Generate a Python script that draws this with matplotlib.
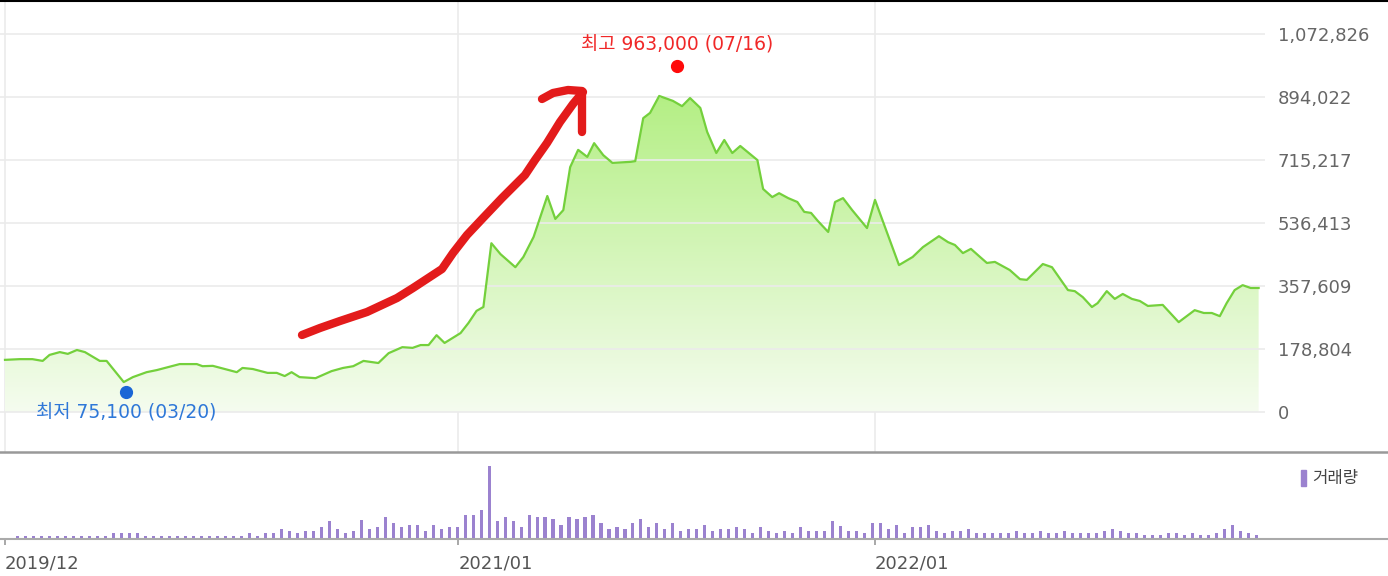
import matplotlib
matplotlib.use('Agg')
import matplotlib.pyplot as plt
import matplotlib.dates as mdates
import matplotlib.transforms as mtransforms
from matplotlib.patches import Rectangle
from matplotlib.colors import LinearSegmentedColormap
import numpy as np
import pandas as pd

# weekly close (thousand won)
price_dates = [
    '2019-12-01', '2019-12-14', '2019-12-25', '2020-01-03', '2020-01-09', '2020-01-18', '2020-01-25',
    '2020-02-02', '2020-02-09', '2020-02-22', '2020-02-28', '2020-03-14', '2020-03-22', '2020-04-03',
    '2020-04-12', '2020-05-02', '2020-05-17', '2020-05-22', '2020-05-31', '2020-06-21', '2020-06-26',
    '2020-07-05', '2020-07-18', '2020-07-26', '2020-08-02', '2020-08-08', '2020-08-15', '2020-08-29',
    '2020-09-12', '2020-09-22', '2020-10-01', '2020-10-10', '2020-10-23', '2020-11-01', '2020-11-13',
    '2020-11-22', '2020-11-29', '2020-12-06', '2020-12-13', '2020-12-20',
    '2021-01-03', '2021-01-10', '2021-01-17', '2021-01-23', '2021-01-30', '2021-02-07', '2021-02-20',
    '2021-02-27', '2021-03-08', '2021-03-20', '2021-03-27', '2021-04-03', '2021-04-09', '2021-04-16',
    '2021-04-24', '2021-04-30', '2021-05-08', '2021-05-16', '2021-06-01', '2021-06-05', '2021-06-12',
    '2021-06-18', '2021-06-26', '2021-07-08', '2021-07-16', '2021-07-23', '2021-08-01', '2021-08-07',
    '2021-08-15', '2021-08-22', '2021-08-29', '2021-09-05', '2021-09-20', '2021-09-25', '2021-10-03',
    '2021-10-09', '2021-10-17', '2021-10-25', '2021-10-31', '2021-11-06', '2021-11-12', '2021-11-21',
    '2021-11-27', '2021-12-04', '2021-12-12', '2021-12-25',
    '2022-01-01', '2022-01-22', '2022-02-03', '2022-02-12', '2022-02-26', '2022-03-06', '2022-03-12',
    '2022-03-19', '2022-03-26', '2022-04-03', '2022-04-09', '2022-04-16', '2022-04-29', '2022-05-08',
    '2022-05-14', '2022-05-28', '2022-06-05', '2022-06-19', '2022-06-25', '2022-07-02', '2022-07-10',
    '2022-07-15', '2022-07-23', '2022-07-30', '2022-08-06', '2022-08-14', '2022-08-21', '2022-08-28',
    '2022-09-10', '2022-09-24', '2022-10-08', '2022-10-16', '2022-10-23', '2022-10-30', '2022-11-05',
    '2022-11-12', '2022-11-19', '2022-11-26', '2022-12-03']
price_k = [
    148, 150, 150, 145, 162, 170, 165, 176, 170, 145, 145, 85, 99, 113, 119, 136, 136, 130, 131, 113,
    125, 122, 111, 111, 102, 113, 99, 96, 116, 125, 130, 145, 139, 167, 184, 182, 190, 190, 218, 196,
    224, 253, 287, 298, 479, 448, 411, 440, 497, 613, 548, 573, 695, 744, 724, 763, 729, 707, 710, 712,
    834, 849, 897, 883, 868, 891, 863, 795, 735, 772, 735, 755, 715, 633, 610, 621, 607, 596, 568, 565,
    542, 511, 596, 607, 573, 522,
    602, 417, 440, 468, 499, 482, 474, 451, 463, 440, 423, 426, 403, 377, 375, 420, 411, 346, 343, 326,
    298, 309, 343, 321, 335, 321, 315, 301, 304, 255, 289, 281, 281, 272, 309, 346, 360, 352, 352]

# weekly volume (relative units), one bar per week
vol_start = '2019-12-12'
volume = [
    6, 6, 6, 6, 6, 6, 6, 6, 6, 6, 6, 6, 14, 14, 14, 14, 6, 6, 6, 6,
    6, 6, 6, 6, 6, 6, 6, 6, 6, 14, 6, 14, 14, 26, 20, 14, 20, 20, 32, 50,
    26, 14, 20, 55, 26, 32, 62, 44, 32, 38, 38,
    20, 38, 26, 32, 32, 68, 68, 85, 217, 50, 62, 50, 32, 68, 62, 62, 56, 38, 62, 56,
    62, 68, 44, 26, 32, 26, 44, 56, 32, 44, 26, 44, 20, 26, 26, 38, 20, 26, 26, 32,
    26, 14, 32, 20, 14, 20, 14, 32, 20, 20, 20, 50,
    36, 20, 20, 14, 44, 44, 26, 38, 14, 32, 32, 38, 20, 14, 20, 20, 26, 14, 14, 14,
    14, 14, 20, 14, 14, 20, 14, 14, 20, 14, 14, 14, 14, 20, 26, 20, 14, 14, 8, 8,
    8, 14, 14, 8, 14, 8, 8, 14, 26, 38, 20, 14, 8]

y_ticks = [0, 178804, 357609, 536413, 715217, 894022, 1072826]
x_ticks = ['2019-12-01', '2021-01-01', '2022-01-01']
x_tick_labels = ['2019/12', '2021/01', '2022/01']

high_value, high_date = 963000, '2021-07-16'
low_value, low_date = 75100, '2020-03-20'

# hand drawn red arrow on the screenshot (figure pixels)
arrow_x = [302, 320, 340, 367, 397, 413, 442, 453, 467, 483, 502, 512, 525, 535, 547, 560, 573, 583]
arrow_y = [335, 328, 321, 312, 298, 288, 269, 253, 235, 218, 198, 188, 175, 160, 143, 122, 104, 92]
head_x = [542, 553, 568, 582, 582]
head_y = [99, 93, 90, 91, 132]

W, H = 1388, 576
fig = plt.figure(figsize=(W / 100, H / 100), dpi=100)


def box(l, t, r, b):
    return [l / W, 1 - b / H, (r - l) / W, (b - t) / H]


ax = fig.add_axes(box(0, 2, 1265, 452))
axv = fig.add_axes(box(0, 453, 1265, 538))

px_per_day = 870 / 762
x_left = mdates.datestr2num('2019-12-01') - 5 / px_per_day
x_right = x_left + 1265 / px_per_day

xs = mdates.date2num(pd.to_datetime(price_dates))
ys = np.array(price_k) * 1000

# gradient fill under the line
poly = ax.fill_between(xs, ys, 0, color='none', lw=0)
grad = np.linspace(0, 1, 256).reshape(-1, 1)
cmap = LinearSegmentedColormap.from_list('g', ['#f5fcef', '#b0ee7e'])
im = ax.imshow(grad, cmap=cmap, aspect='auto', origin='lower',
               extent=[xs[0], xs[-1], 0, 950000], zorder=1)
im.set_clip_path(poly.get_paths()[0], transform=ax.transData)
ax.plot(xs, ys, color='#74d03c', lw=1.6, zorder=3)

unit = y_ticks[1] / 63
ax.set_xlim(x_left, x_right)
ax.set_ylim(-40 * unit, 410 * unit)
ax.set_yticks(y_ticks)
ax.set_yticklabels([f'{v:,}' for v in y_ticks])
ax.yaxis.tick_right()
ax.tick_params(axis='y', length=0, pad=9, labelsize=13, labelcolor='#666666')
ax.set_xticks([])
ax.grid(axis='y', color='#ebebeb', lw=1.2, zorder=0)
for t in x_ticks:
    ax.axvline(mdates.datestr2num(t), color='#ebebeb', lw=1.2, zorder=0)
for s in ax.spines.values():
    s.set_visible(False)


# high / low markers, at the start of their week
def week_start(d):
    t = pd.Timestamp(d)
    return mdates.date2num(t - pd.Timedelta(days=t.weekday()))


txt_font = ['DejaVu Sans', 'Noto Sans CJK KR']
up = mtransforms.offset_copy(ax.transData, fig=fig, y=5, units='points')
down = mtransforms.offset_copy(ax.transData, fig=fig, y=-5, units='points')
hx, lx = week_start(high_date), week_start(low_date)
ax.plot([hx], [high_value], 'o', color='#ff0a0a', ms=8.5, transform=up, zorder=5)
ax.plot([lx], [low_value], 'o', color='#1a66d6', ms=8.5, transform=down, zorder=5)
ax.annotate(f"최고 {high_value:,} ({pd.Timestamp(high_date):%m/%d})", xy=(hx, high_value),
            xytext=(0, 20), textcoords='offset points', ha='center', va='center',
            fontsize=13.5, family=txt_font, color='#f02828')
ax.annotate(f"최저 {low_value:,} ({pd.Timestamp(low_date):%m/%d})", xy=(lx, low_value),
            xytext=(0, -20), textcoords='offset points', ha='center', va='center',
            fontsize=13.5, family=txt_font, color='#2f78d8')
ax.set_xlim(x_left, x_right)
ax.set_ylim(-40 * unit, 410 * unit)

# volume
vx = mdates.date2num(pd.date_range(vol_start, periods=len(volume), freq='7D'))
axv.bar(vx, volume, width=2.7, color='#9b82cf', zorder=2)
axv.set_xlim(x_left, x_right)
axv.set_ylim(0, 255)
axv.set_yticks([])
axv.set_xticks(mdates.datestr2num(x_ticks))
axv.set_xticklabels(x_tick_labels, ha='left')
axv.tick_params(axis='x', length=5, width=1.2, color='#999999', pad=7,
                labelsize=13, labelcolor='#555555')
for s in axv.spines.values():
    s.set_visible(False)

# overlay in figure pixels: frame lines, legend, red arrow
ov = fig.add_axes([0, 0, 1, 1])
ov.set_xlim(0, W)
ov.set_ylim(H, 0)
ov.axis('off')
ov.patch.set_alpha(0)
ov.plot([0, W], [0.7, 0.7], color='black', lw=1.5)
ov.plot([0, W], [452, 452], color='#999999', lw=1.8)
ov.plot([0, W], [539, 539], color='#aaaaaa', lw=1.5)
ov.add_patch(Rectangle((1301, 470), 5, 16, color='#9b82cf'))
ov.text(1312, 478, '거래량', ha='left', va='center', fontsize=12,
        family=['Noto Sans CJK KR', 'DejaVu Sans'], color='#444444')
ov.plot(arrow_x, arrow_y, color='#e31b1b', lw=6, solid_capstyle='round', solid_joinstyle='round')
ov.plot(head_x, head_y, color='#e31b1b', lw=6, solid_capstyle='round', solid_joinstyle='round')

fig.savefig('out.png', dpi=100)
